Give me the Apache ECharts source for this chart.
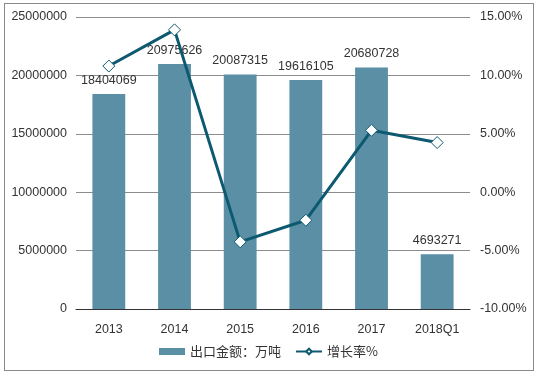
<!DOCTYPE html>
<html><head><meta charset="utf-8">
<script src="https://cdn.jsdelivr.net/npm/echarts@6/dist/echarts.min.js"></script>
<style>html,body{margin:0;padding:0;background:#fff;}#c{width:537px;height:375px;}
#frame{position:absolute;left:4px;top:3px;width:530px;height:368px;border:1px solid #8a8a8a;pointer-events:none;box-sizing:border-box;}</style>
</head><body><div id="c"></div><div id="frame"></div>
<script>
const categories = ['2013','2014','2015','2016','2017','2018Q1'];
const exportValues = [18404069, 20975626, 20087315, 19616105, 20680728, 4693271];
const growthRates = [10.8, 13.9, -4.25, -2.4, 5.3, 4.25];
const leftTicks = [0, 25000000, 5000000];
const rightTicks = [-10, 15, 5];
const barName = '出口金额：万吨';
const lineName = '增长率%';

const chart = echarts.init(document.getElementById('c'), null, {renderer:'canvas'});
const font = '"Liberation Sans", Arial, sans-serif';
chart.setOption({
  animation:false,
  textStyle:{fontFamily:font},
  grid:{left:76,right:67,top:17,bottom:66,containLabel:false},
  legend:{
    bottom:12, left:'center', itemGap:14, itemWidth:26, itemHeight:7,
    textStyle:{fontSize:13,color:'#333',fontFamily:'"Noto Sans CJK SC", sans-serif'},
    data:[{name:barName,icon:'rect'},{name:lineName}]
  },
  xAxis:{type:'category',data:categories,
    axisLine:{lineStyle:{color:'#333',width:1}},axisTick:{show:false},
    axisLabel:{color:'#333',fontSize:12.5,margin:14}},
  yAxis:[
    {type:'value',min:leftTicks[0],max:leftTicks[1],interval:leftTicks[2],
     axisLine:{show:false},axisTick:{show:false},
     splitLine:{lineStyle:{color:'#8c8c8c',width:1}},
     axisLabel:{color:'#333',fontSize:12.5,margin:9,formatter:v=>String(v)}},
    {type:'value',min:rightTicks[0],max:rightTicks[1],interval:rightTicks[2],
     axisLine:{show:false},axisTick:{show:false},splitLine:{show:false},
     axisLabel:{color:'#333',fontSize:12.5,margin:10,formatter:v=>v.toFixed(2)+'%'}}
  ],
  series:[
    {name:barName,type:'bar',data:exportValues,barWidth:'50%',
     itemStyle:{color:'#5b8fa5'},
     label:{show:true,position:'top',distance:7,color:'#333',fontSize:12.5}},
    {name:lineName,type:'line',yAxisIndex:1,data:growthRates,
     symbol:'diamond',symbolSize:12,
     lineStyle:{color:'#0d5a70',width:3},
     itemStyle:{color:'#fff',borderColor:'#0d5a70',borderWidth:1}}
  ]
});
</script></body></html>
